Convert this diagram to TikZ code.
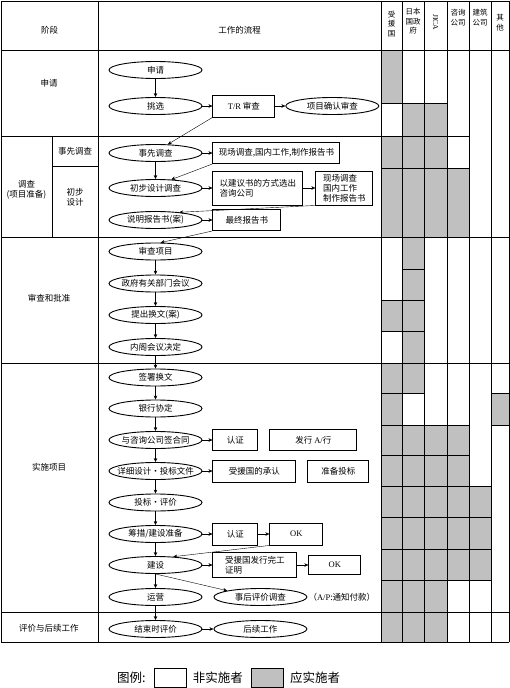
\documentclass[tikz,border=0pt]{standalone}
\usepackage{fontspec}
\setmainfont{Noto Sans CJK SC}
\newfontfamily\latinfont{Liberation Serif}
\usetikzlibrary{arrows.meta, positioning, shapes.geometric}
\definecolor{cellgray}{RGB}{192,192,192}

\begin{document}
\begin{tikzpicture}[
    x=1pt, y=-1pt,
    node distance=10pt,
    font=\fontsize{8.5}{10}\selectfont,
    stepell/.style={ellipse, draw, line width=0.9pt, minimum width=93pt, minimum height=17pt, inner xsep=-14pt, inner ysep=0pt},
    tbox/.style={rectangle, draw, line width=0.9pt, minimum height=21pt, inner xsep=4pt, inner ysep=2pt, align=left},
    arrow/.style={-{Stealth[length=4pt, width=3.5pt]}, line width=0.4pt},
    tabline/.style={line width=0.7pt, line cap=rect},
    colhead/.style={font=\fontsize{7.5}{9.5}\selectfont, align=center, inner sep=0pt},
    stagelabel/.style={align=center, inner sep=0pt},
    legtext/.style={font=\fontsize{12.5}{14}\selectfont, inner sep=0pt}
]
    \useasboundingbox (0,0) rectangle (510,688);

    % Grey cells: who has to act
    \foreach \xa/\xb/\ya/\yb in {381/402/50/103, 402/447/103/136, 381/447/136/168, 381/469/168/237,
        402/424/237/363, 381/402/300/331, 381/424/363/393, 381/402/393/425, 491/509/393/425,
        381/469/425/486, 381/491/486/580, 381/447/580/642}
        \fill[cellgray] (\xa,\ya) rectangle (\xb,\yb);

    % Table rules
    \foreach \xa/\xb/\y in {1/509/1, 1/509/50, 381/447/103, 1/469/136, 381/469/168, 52/98/166,
        1/509/237, 402/424/269, 381/424/300, 381/424/331, 1/509/363, 381/424/393, 491/509/393,
        381/469/425, 491/509/425, 381/469/455, 381/491/486, 381/491/517, 381/491/549,
        381/491/580, 1/509/612, 1/509/642}
        \draw[tabline] (\xa,\y) -- (\xb,\y);
    \foreach \x in {1, 98, 381, 402, 424, 447, 469, 491, 509}
        \draw[tabline] (\x,1) -- (\x,642);
    \draw[tabline] (52,136) -- (52,237);

    % Header
    \node (hstage) at (49.5,30) {阶段};
    \node (hflow) at (239.5,30) {工作的流程};
    \node[colhead] (hrecip) at (391.5,24) {受\\援\\国};
    \node[colhead] (hjapan) at (413,21.5) {日本\\国政\\府};
    \node[colhead, rotate=-90] (hjica) at (435.5,22) {\latinfont JICA};
    \node[colhead] (hconsult) at (458,17.5) {咨询\\公司};
    \node[colhead] (hbuild) at (480,17.5) {建筑\\公司};
    \node[colhead] (hother) at (500,22.5) {其\\他};

    % Stage labels
    \node[stagelabel] (sapply) at (49,83) {申请};
    \node[stagelabel] (sstudy) at (26.5,190) {调查\\(项目准备)};
    \node[stagelabel] (spre) at (75,151) {事先调查};
    \node[stagelabel] (sbasic) at (75,197) {初步\\设计};
    \node[stagelabel] (sreview) at (49,298) {审查和批准};
    \node[stagelabel] (simpl) at (49,467) {实施项目};
    \node[stagelabel] (seval) at (49,628) {评价与后续工作};

    % Application
    \node[stepell] (apply) at (155.5,70) {申请};
    \node[stepell] (select) at (155.5,106) {挑选};
    \node[tbox, minimum width=62pt, minimum height=22pt, right=of select] (trcheck) {{\latinfont T/R} 审查};
    \node[stepell, right=of trcheck] (confirm) {项目确认审查};

    % Study
    \node[stepell] (prestudy) at (155.5,153) {事先调查};
    \node[tbox, minimum width=127pt, right=of prestudy] (fieldwork) {现场调查,国内工作,制作报告书};
    \node[stepell] (basicdes) at (155.5,188) {初步设计调查};
    \node[tbox, minimum width=90pt, minimum height=34pt, right=of basicdes] (proposal) {以建议书的方式选出\\咨询公司};
    \node[tbox, minimum width=57pt, minimum height=34pt, right=12pt of proposal] (fieldwork2) {现场调查\\国内工作\\制作报告书};
    \node[stepell] (explain) at (155.5,220) {说明报告书(案)};
    \node[tbox, minimum width=68pt, right=of explain] (finalrep) {最终报告书};

    % Review and approval
    \node[stepell] (review) at (155.5,251.5) {审查项目};
    \node[stepell] (meeting) at (155.5,283.5) {政府有关部门会议};
    \node[stepell] (notes) at (155.5,315) {提出换文(案)};
    \node[stepell] (cabinet) at (155.5,347) {内阁会议决定};

    % Implementation
    \node[stepell] (sign) at (155.5,377.5) {签署换文};
    \node[stepell] (bank) at (155.5,408.5) {银行协定};
    \node[stepell] (contract) at (155.5,440) {与咨询公司签合同};
    \node[tbox, minimum width=45pt, right=of contract] (verify1) {认证};
    \node[tbox, minimum width=87pt, right=11pt of verify1] (issue) {发行 {\latinfont A/}行};
    \node[stepell] (design) at (155.5,471) {详细设计·投标文件};
    \node[tbox, minimum width=83pt, minimum height=22pt, right=of design] (approve) {受援国的承认};
    \node[tbox, minimum width=61pt, minimum height=22pt, right=11pt of approve] (tenderprep) {准备投标};
    \node[stepell] (tender) at (155.5,502.5) {投标·评价};
    \node[stepell] (prep) at (155.5,534) {筹措/建设准备};
    \node[tbox, minimum width=45pt, minimum height=22pt, right=of prep] (verify2) {认证};
    \node[tbox, minimum width=53pt, minimum height=22pt, right=11pt of verify2] (ok1) {\latinfont OK};
    \node[stepell] (build) at (155.5,565) {建设};
    \node[tbox, minimum width=84pt, minimum height=25pt, right=of build] (complete) {受援国发行完工\\证明};
    \node[tbox, minimum width=52pt, minimum height=19pt, right=11pt of complete] (ok2) {\latinfont OK};
    \node[stepell] (operate) at (155.5,597) {运营};
    \node[stepell, right=11pt of operate] (posteval) {事后评价调查};
    \node[right=0pt of posteval, inner xsep=1pt] (apnote) {（{\latinfont A/P}:通知付款）};

    % Evaluation
    \node[stepell] (finaleval) at (155.5,629) {结束时评价};
    \node[stepell, right=11pt of finaleval] (followup) {后续工作};

    % Main flow (downward)
    \foreach \a/\b in {apply/select, prestudy/basicdes, review/meeting, meeting/notes, notes/cabinet,
        cabinet/sign, sign/bank, bank/contract, contract/design, design/tender, tender/prep,
        prep/build, build/operate, operate/finaleval}
        \draw[arrow] (\a) -- (\b);

    % Side flow (right)
    \foreach \a/\b in {select/trcheck, trcheck/confirm, prestudy/fieldwork, basicdes/proposal,
        proposal/fieldwork2, explain/finalrep, contract/verify1, design/approve, prep/verify2,
        verify2/ok1, build/complete, complete/ok2, finaleval/followup}
        \draw[arrow] (\a) -- (\b);

    % Back to the main column
    \draw[arrow] (trcheck.south west) -- (prestudy.35);
    \draw[arrow] (fieldwork.south west) -- (basicdes.28);
    \draw[arrow] (fieldwork2.south west) -- (explain.18);
    \draw[arrow] (finalrep.south west) -- (review.60);
    \draw[arrow] (ok1.south west) -- (build.25);
    \draw[arrow] (build.south) -- (posteval.north west);

    % Legend
    \node[legtext, anchor=west] (legtitle) at (117,678) {图例:};
    \node[draw, line width=0.8pt, minimum width=32pt, minimum height=19pt, inner sep=0pt, right=8pt of legtitle] (legwhite) {};
    \node[legtext, right=6pt of legwhite] (legno) {非实施者};
    \node[draw, fill=cellgray, line width=0.8pt, minimum width=32pt, minimum height=19pt, inner sep=0pt, right=8pt of legno] (leggrey) {};
    \node[legtext, right=6pt of leggrey] (legyes) {应实施者};
\end{tikzpicture}
\end{document}
